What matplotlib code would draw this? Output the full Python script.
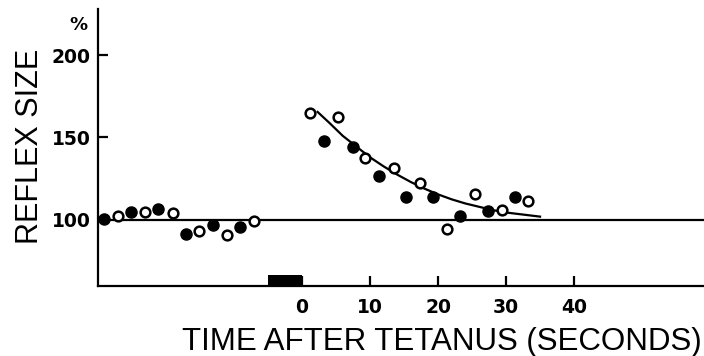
import matplotlib
matplotlib.use("Agg")
from matplotlib import pyplot as plt

# pre-tetanus control responses (alternating filled / open)
pre_filled_t = [-29.1, -25.1, -21.1, -17.1, -13.1, -9.1]
pre_filled_y = [100.6, 104.7, 106.5, 91.3, 97.0, 96.0]
pre_open_t = [-27.1, -23.0, -18.9, -15.2, -11.0, -7.0]
pre_open_y = [102.6, 104.8, 104.1, 93.5, 90.9, 99.4]

# post-tetanic responses
post_filled_t = [3.3, 7.5, 11.3, 15.3, 19.2, 23.2, 27.3, 31.3]
post_filled_y = [147.9, 144.0, 126.7, 113.7, 113.8, 102.6, 105.3, 114.1]
post_open_t = [1.2, 5.3, 9.3, 13.5, 17.4, 21.3, 25.4, 29.4, 33.3]
post_open_y = [165.0, 162.6, 137.4, 131.3, 122.2, 94.5, 115.8, 106.1, 111.7]

# hand-drawn decay curve through the post-tetanic points
curve_t = [2.3, 4, 6, 8, 10, 12, 14, 16, 18, 20, 22, 24, 26, 28, 30, 32, 35]
curve_y = [165.5, 159, 151, 144.5, 138, 132.5, 127.5, 123, 119, 115.5,
           112.5, 110, 108, 106, 104.5, 103.5, 102]

baseline = 100
tetanus = (-5, 0)

fig = plt.figure(figsize=(7.04, 3.56), dpi=100)
ax = fig.add_axes([0.139, 0.197, 0.861, 0.778])

ax.axhline(baseline, color='k', linewidth=1.6, zorder=1)
ax.plot(curve_t, curve_y, 'k-', linewidth=1.6, zorder=1)

ax.plot(pre_filled_t + post_filled_t, pre_filled_y + post_filled_y, 'o',
        color='k', markersize=8, zorder=3, clip_on=False)
ax.plot(pre_open_t + post_open_t, pre_open_y + post_open_y, 'o',
        markerfacecolor='white', markeredgecolor='k', markersize=7,
        markeredgewidth=1.8, zorder=3)

ax.bar((tetanus[0] + tetanus[1]) / 2, 6.5, width=tetanus[1] - tetanus[0],
       bottom=60, color='k', zorder=2)

ax.set_xlim(-30, 59.1)
ax.set_ylim(60, 228)
ax.set_xticks([0, 10, 20, 30, 40])
ax.set_yticks([100, 150, 200])

for s in ['top', 'right']:
    ax.spines[s].set_visible(False)
for s in ['left', 'bottom']:
    ax.spines[s].set_linewidth(1.6)

ax.tick_params(axis='both', direction='in', length=7, width=1.6,
               labelsize=13.5)
ax.tick_params(axis='y', pad=5)
ax.tick_params(axis='x', pad=9)
for lab in ax.get_xticklabels() + ax.get_yticklabels():
    lab.set_fontweight('bold')

fig.text(0.054, 0.588, "REFLEX SIZE", rotation=90, rotation_mode='anchor',
         fontsize=22, family='Liberation Sans', ha='center', va='baseline')
fig.text(0.627, 0.017, "TIME AFTER TETANUS (SECONDS)", fontsize=22.5,
         family='Liberation Sans', ha='center', va='baseline')
fig.text(0.112, 0.93, "%", fontsize=13, fontweight='bold',
         ha='center', va='center')

plt.savefig("out.png", dpi=100)
